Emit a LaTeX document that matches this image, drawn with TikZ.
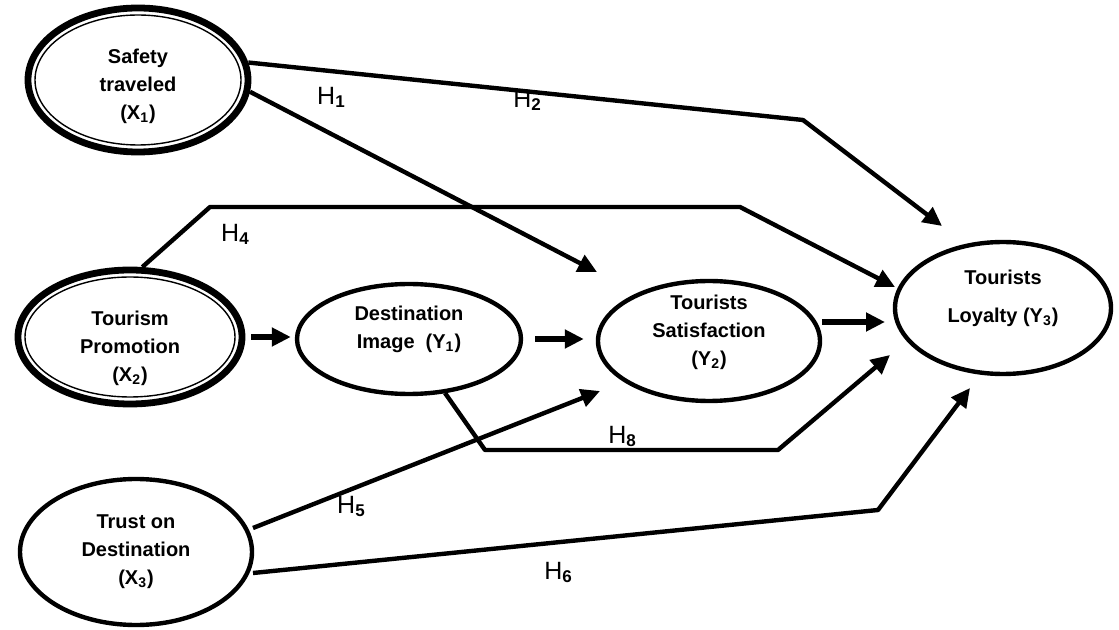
\documentclass[tikz,border=0pt]{standalone}
\usepackage{fontspec}
\setmainfont{Liberation Sans}
\usetikzlibrary{shapes.geometric,arrows.meta}

\newcommand{\ntext}[2][0pt]{\raisebox{#1}[0pt][0pt]{\begin{tabular}{@{}c@{}}#2\end{tabular}}}
\newcommand{\hlab}[1]{H\raisebox{-1.5pt}{\fontsize{8.5}{9}\selectfont\bfseries #1}}

\begin{document}
\begin{tikzpicture}[x=0.5pt, y=-0.5pt, >={Triangle[length=9.5pt, width=9pt]},
    latent/.style={ellipse, draw, line width=2.2pt, inner sep=0pt, font=\bfseries\fontsize{10}{14}\selectfont},
    exo/.style={latent, line width=3.4pt},
    link/.style={line width=2.2pt, line join=round},
    short/.style={link, line width=3pt},
    hyp/.style={inner sep=0pt, font=\fontsize{12.5}{14}\selectfont}]

    \useasboundingbox (0,0) rectangle (1119,630);

    \node[exo, minimum width=110pt, minimum height=72pt] (safety) at (138,80) {\ntext[-5.5pt]{Safety\\traveled\\(X\textsubscript{1})}};
    \node[exo, minimum width=112pt, minimum height=67pt] (promo) at (130,337) {\ntext[-8pt]{Tourism\\Promotion\\(X\textsubscript{2})}};
    \node[latent, minimum width=112pt, minimum height=55pt] (image) at (409,339) {\ntext[2.5pt]{Destination\\Image~~(Y\textsubscript{1})}};
    \node[latent, minimum width=111pt, minimum height=60pt] (satisf) at (709,341) {\ntext[2pt]{Tourists\\Satisfaction\\(Y\textsubscript{2})}};
    \node[latent, minimum width=108pt, minimum height=66pt] (loyal) at (1003,308) {\ntext[2.5pt]{Tourists\\[5pt]Loyalty (Y\textsubscript{3})}};
    \node[latent, minimum width=116pt, minimum height=73pt] (trust) at (136,552) {\ntext[-2pt]{Trust on\\Destination\\(X\textsubscript{3})}};

    \draw[line width=0.7pt] (safety.center) ellipse [x radius=103, y radius=65];
    \draw[line width=0.7pt] (promo.center) ellipse [x radius=105, y radius=60];

    \coordinate (h2bend) at (803,120);
    \coordinate (h4up) at (210,207);
    \coordinate (h4right) at (740,207);
    \coordinate (h8down) at (485,450);
    \coordinate (h8right) at (778,450);
    \coordinate (h6bend) at (878,510);

    \draw[link, ->] (safety.-6) -- ([shift={(-112,-69)}]satisf.center);
    \draw[link, ->] (safety.9) -- (h2bend) -- ([shift={(-61,-82)}]loyal.center);
    \draw[link, ->] (promo.80) -- (h4up) -- (h4right) -- ([shift={(-108,-21)}]loyal.center);
    \draw[short, ->, shorten <=3pt, shorten >=2pt] (promo.east) -- (promo.east -| image.west);
    \draw[short, ->, shorten <=6pt, shorten >=6pt] (image.east) -- (image.east -| satisf.west);
    \draw[short, ->] ([shift={(113,-19)}]satisf.center) -- ([shift={(-118,14)}]loyal.center);
    \draw[link, ->] ([shift={(36,54)}]image.center) -- (h8down) -- (h8right) -- ([shift={(-113,47)}]loyal.center);
    \draw[link, ->] ([shift={(117,-24)}]trust.center) -- ([shift={(-109,50)}]satisf.center);
    \draw[link, ->] ([shift={(117,21)}]trust.center) -- (h6bend) -- ([shift={(-33,80)}]loyal.center);

    \node[hyp] (h1) at (331,97) {\hlab{1}};
    \node[hyp] (h2) at (527,100) {\hlab{2}};
    \node[hyp] (h4) at (235,234) {\hlab{4}};
    \node[hyp] (h8) at (622,436) {\hlab{8}};
    \node[hyp] (h5) at (351,506) {\hlab{5}};
    \node[hyp] (h6) at (558,572) {\hlab{6}};
\end{tikzpicture}
\end{document}
